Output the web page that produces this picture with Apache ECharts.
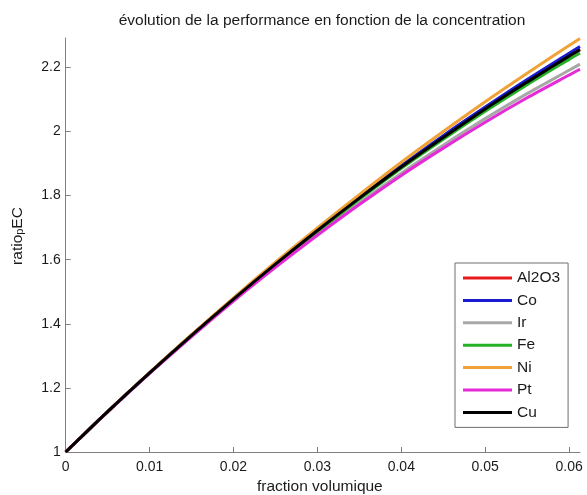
<!DOCTYPE html>
<html>
<head>
<meta charset="utf-8">
<script src="https://cdn.jsdelivr.net/npm/echarts@6/dist/echarts.min.js"></script>
<style>
html,body{margin:0;padding:0;background:#fff;}
#chart{width:587px;height:495px;}
</style>
</head>
<body>
<div id="chart"></div>
<script>
// Data
var fractions = [0, 0.005, 0.01, 0.015, 0.02, 0.025, 0.03, 0.035, 0.04, 0.045, 0.05, 0.055, 0.06, 0.0613];
var seriesNames = ['Al2O3', 'Co', 'Ir', 'Fe', 'Ni', 'Pt', 'Cu'];
var al2o3 = [1, 1.126, 1.247, 1.364, 1.477, 1.587, 1.691, 1.792, 1.890, 1.982, 2.071, 2.155, 2.236, 2.257];
var co    = [1, 1.126, 1.247, 1.365, 1.478, 1.588, 1.693, 1.795, 1.893, 1.987, 2.076, 2.162, 2.244, 2.265];
var ir    = [1, 1.125, 1.246, 1.361, 1.472, 1.579, 1.680, 1.777, 1.870, 1.957, 2.040, 2.118, 2.191, 2.210];
var fe    = [1, 1.126, 1.247, 1.363, 1.476, 1.585, 1.688, 1.788, 1.885, 1.976, 2.063, 2.146, 2.225, 2.245];
var ni    = [1, 1.126, 1.248, 1.366, 1.481, 1.592, 1.699, 1.803, 1.904, 2.000, 2.093, 2.182, 2.268, 2.290];
var pt    = [1, 1.125, 1.245, 1.360, 1.471, 1.576, 1.676, 1.772, 1.863, 1.948, 2.029, 2.105, 2.176, 2.194];
var cu    = [1, 1.126, 1.247, 1.364, 1.477, 1.586, 1.691, 1.792, 1.889, 1.981, 2.070, 2.154, 2.235, 2.255];
var seriesValues = [al2o3, co, ir, fe, ni, pt, cu];
var xTicks = [0, 0.01, 0.02, 0.03, 0.04, 0.05, 0.06];
var yTicks = [1, 1.2, 1.4, 1.6, 1.8, 2, 2.2];

var colors = ['#e81c1c', '#1a1acf', '#a8a8a8', '#25b025', '#f0a236', '#e62ad8', '#000000'];
var FONT = '"Liberation Sans", Arial, sans-serif';

var chart = echarts.init(document.getElementById('chart'), null, {renderer: 'canvas'});

var series = seriesNames.map(function (name, i) {
  return {
    name: name,
    type: 'line',
    smooth: 0.3,
    symbol: 'none',
    data: fractions.map(function (x, j) { return [x, seriesValues[i][j]]; }),
    lineStyle: {width: 3, color: colors[i]},
    itemStyle: {color: colors[i]},
    z: 2 + i
  };
});

var option = {
  backgroundColor: '#ffffff',
  animation: false,
  title: {
    text: 'évolution de la performance en fonction de la concentration',
    left: 317,
    textAlign: 'center',
    top: 8,
    textStyle: {fontFamily: FONT, fontSize: 15.5, fontWeight: 'normal', color: '#1a1a1a'}
  },
  grid: {left: 65.7, right: 7, top: 38, bottom: 43, containLabel: false, outerBoundsMode: 'none'},
  legend: {
    orient: 'vertical',
    left: 455,
    top: 263,
    data: seriesNames,
    itemWidth: 49,
    itemHeight: 3,
    itemGap: 6.4,
    icon: 'rect',
    padding: [7, 8, 7, 8],
    backgroundColor: '#ffffff',
    borderColor: '#6e6e6e',
    borderWidth: 1,
    textStyle: {fontFamily: FONT, fontSize: 15.5, color: '#1a1a1a', padding: [0, 0, 0, 0]}
  },
  xAxis: {
    type: 'value',
    min: 0,
    max: 0.0613,
    interval: 0.01,
    name: 'fraction volumique',
    nameLocation: 'middle',
    nameGap: 26,
    nameTextStyle: {fontFamily: FONT, fontSize: 15.5, color: '#1a1a1a', padding: [0, 6, 0, 0]},
    axisLine: {show: true, lineStyle: {color: '#808080', width: 1}},
    axisTick: {show: true, inside: true, length: 5, lineStyle: {color: '#808080'}},
    axisLabel: {
      fontFamily: FONT, fontSize: 14, color: '#1a1a1a', margin: 8,
      showMaxLabel: false,
      formatter: function (v) {
        for (var k = 0; k < xTicks.length; k++) { if (Math.abs(v - xTicks[k]) < 1e-9) return String(xTicks[k]); }
        return '';
      }
    },
    splitLine: {show: false}
  },
  yAxis: {
    type: 'value',
    min: 1,
    max: 2.2916,
    interval: 0.2,
    name: '{a|ratio}{b|p}{a|EC}',
    nameLocation: 'middle',
    nameGap: 40,
    nameRotate: 90,
    nameTextStyle: {
      fontFamily: FONT, color: '#1a1a1a',
      padding: [0, 0, 0, 18],
      rich: {
        a: {fontFamily: FONT, fontSize: 15.5, color: '#1a1a1a', verticalAlign: 'bottom', lineHeight: 18},
        b: {fontFamily: FONT, fontSize: 11, color: '#1a1a1a', verticalAlign: 'bottom', lineHeight: 18, padding: [10, 0, 0, 0]}
      }
    },
    axisLine: {show: true, lineStyle: {color: '#808080', width: 1}},
    axisTick: {show: true, inside: true, length: 5, lineStyle: {color: '#808080'}},
    axisLabel: {
      fontFamily: FONT, fontSize: 14, color: '#1a1a1a', margin: 5,
      showMaxLabel: false,
      formatter: function (v) {
        for (var k = 0; k < yTicks.length; k++) { if (Math.abs(v - yTicks[k]) < 1e-9) return String(yTicks[k]); }
        return '';
      }
    },
    splitLine: {show: false}
  },
  series: series
};
chart.setOption(option);
</script>
</body>
</html>
